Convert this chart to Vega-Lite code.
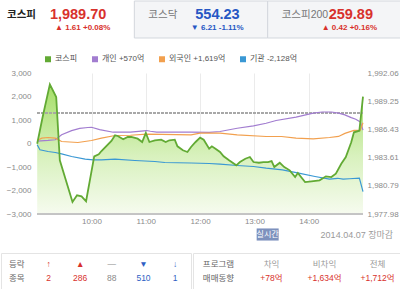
{
  "$schema": "https://vega.github.io/schema/vega-lite/v6.json",
  "padding": 0,
  "background": "white",
  "spacing": 15,
  "resolve": {"legend": {"color": "independent"}},
  "config": {
    "font": "'Liberation Sans', 'Noto Sans CJK KR', sans-serif",
    "view": {"stroke": null},
    "axis": {"labelFont": "'Liberation Sans', 'Noto Sans CJK KR', sans-serif", "labelOverlap": false},
    "legend": {"labelFont": "'Liberation Sans', 'Noto Sans CJK KR', sans-serif"}
  },
  "datasets": {
    "kospi": [
      {"t": "2014-04-07T09:00", "k": 1985.00, "s": "코스피"},
      {"t": "2014-04-07T09:06", "k": 1987.67, "s": "코스피"},
      {"t": "2014-04-07T09:14", "k": 1990.93, "s": "코스피"},
      {"t": "2014-04-07T09:21", "k": 1989.66, "s": "코스피"},
      {"t": "2014-04-07T09:25", "k": 1983.34, "s": "코스피"},
      {"t": "2014-04-07T09:39", "k": 1979.18, "s": "코스피"},
      {"t": "2014-04-07T09:44", "k": 1979.85, "s": "코스피"},
      {"t": "2014-04-07T09:49", "k": 1979.75, "s": "코스피"},
      {"t": "2014-04-07T09:54", "k": 1979.25, "s": "코스피"},
      {"t": "2014-04-07T10:03", "k": 1983.74, "s": "코스피"},
      {"t": "2014-04-07T10:08", "k": 1983.94, "s": "코스피"},
      {"t": "2014-04-07T10:11", "k": 1984.27, "s": "코스피"},
      {"t": "2014-04-07T10:22", "k": 1985.27, "s": "코스피"},
      {"t": "2014-04-07T10:26", "k": 1985.84, "s": "코스피"},
      {"t": "2014-04-07T10:29", "k": 1985.77, "s": "코스피"},
      {"t": "2014-04-07T10:35", "k": 1985.44, "s": "코스피"},
      {"t": "2014-04-07T10:40", "k": 1985.67, "s": "코스피"},
      {"t": "2014-04-07T10:44", "k": 1985.67, "s": "코스피"},
      {"t": "2014-04-07T10:51", "k": 1985.50, "s": "코스피"},
      {"t": "2014-04-07T10:56", "k": 1985.17, "s": "코스피"},
      {"t": "2014-04-07T11:00", "k": 1986.07, "s": "코스피"},
      {"t": "2014-04-07T11:04", "k": 1985.17, "s": "코스피"},
      {"t": "2014-04-07T11:10", "k": 1985.34, "s": "코스피"},
      {"t": "2014-04-07T11:17", "k": 1985.40, "s": "코스피"},
      {"t": "2014-04-07T11:22", "k": 1985.17, "s": "코스피"},
      {"t": "2014-04-07T11:26", "k": 1985.34, "s": "코스피"},
      {"t": "2014-04-07T11:32", "k": 1985.40, "s": "코스피"},
      {"t": "2014-04-07T11:35", "k": 1984.74, "s": "코스피"},
      {"t": "2014-04-07T11:41", "k": 1984.34, "s": "코스피"},
      {"t": "2014-04-07T11:46", "k": 1984.17, "s": "코스피"},
      {"t": "2014-04-07T11:50", "k": 1984.67, "s": "코스피"},
      {"t": "2014-04-07T11:55", "k": 1985.17, "s": "코스피"},
      {"t": "2014-04-07T12:00", "k": 1985.60, "s": "코스피"},
      {"t": "2014-04-07T12:04", "k": 1985.40, "s": "코스피"},
      {"t": "2014-04-07T12:10", "k": 1984.50, "s": "코스피"},
      {"t": "2014-04-07T12:13", "k": 1984.74, "s": "코스피"},
      {"t": "2014-04-07T12:17", "k": 1984.50, "s": "코스피"},
      {"t": "2014-04-07T12:22", "k": 1984.17, "s": "코스피"},
      {"t": "2014-04-07T12:26", "k": 1983.74, "s": "코스피"},
      {"t": "2014-04-07T12:32", "k": 1983.34, "s": "코스피"},
      {"t": "2014-04-07T12:40", "k": 1982.84, "s": "코스피"},
      {"t": "2014-04-07T12:44", "k": 1983.17, "s": "코스피"},
      {"t": "2014-04-07T12:50", "k": 1983.50, "s": "코스피"},
      {"t": "2014-04-07T12:55", "k": 1983.67, "s": "코스피"},
      {"t": "2014-04-07T12:59", "k": 1983.17, "s": "코스피"},
      {"t": "2014-04-07T13:05", "k": 1983.10, "s": "코스피"},
      {"t": "2014-04-07T13:10", "k": 1983.17, "s": "코스피"},
      {"t": "2014-04-07T13:15", "k": 1983.17, "s": "코스피"},
      {"t": "2014-04-07T13:19", "k": 1983.27, "s": "코스피"},
      {"t": "2014-04-07T13:22", "k": 1982.67, "s": "코스피"},
      {"t": "2014-04-07T13:28", "k": 1983.10, "s": "코스피"},
      {"t": "2014-04-07T13:33", "k": 1982.67, "s": "코스피"},
      {"t": "2014-04-07T13:39", "k": 1982.34, "s": "코스피"},
      {"t": "2014-04-07T13:45", "k": 1981.67, "s": "코스피"},
      {"t": "2014-04-07T13:48", "k": 1982.07, "s": "코스피"},
      {"t": "2014-04-07T13:56", "k": 1981.17, "s": "코스피"},
      {"t": "2014-04-07T14:03", "k": 1981.24, "s": "코스피"},
      {"t": "2014-04-07T14:12", "k": 1981.34, "s": "코스피"},
      {"t": "2014-04-07T14:19", "k": 1981.74, "s": "코스피"},
      {"t": "2014-04-07T14:25", "k": 1981.67, "s": "코스피"},
      {"t": "2014-04-07T14:30", "k": 1982.00, "s": "코스피"},
      {"t": "2014-04-07T14:36", "k": 1983.00, "s": "코스피"},
      {"t": "2014-04-07T14:41", "k": 1983.67, "s": "코스피"},
      {"t": "2014-04-07T14:47", "k": 1985.14, "s": "코스피"},
      {"t": "2014-04-07T14:50", "k": 1986.14, "s": "코스피"},
      {"t": "2014-04-07T14:56", "k": 1986.30, "s": "코스피"},
      {"t": "2014-04-07T15:00", "k": 1989.70, "s": "코스피"}
    ],
    "inv": [
      {"t": "2014-04-07T09:00", "s": "개인", "v": 100},
      {"t": "2014-04-07T09:12", "s": "개인", "v": 130},
      {"t": "2014-04-07T09:20", "s": "개인", "v": 160},
      {"t": "2014-04-07T09:27", "s": "개인", "v": 370},
      {"t": "2014-04-07T09:38", "s": "개인", "v": 550},
      {"t": "2014-04-07T09:47", "s": "개인", "v": 640},
      {"t": "2014-04-07T09:56", "s": "개인", "v": 680},
      {"t": "2014-04-07T10:00", "s": "개인", "v": 690},
      {"t": "2014-04-07T10:09", "s": "개인", "v": 590},
      {"t": "2014-04-07T10:24", "s": "개인", "v": 480},
      {"t": "2014-04-07T10:43", "s": "개인", "v": 480},
      {"t": "2014-04-07T10:58", "s": "개인", "v": 540},
      {"t": "2014-04-07T11:01", "s": "개인", "v": 553},
      {"t": "2014-04-07T11:05", "s": "개인", "v": 520},
      {"t": "2014-04-07T11:12", "s": "개인", "v": 481},
      {"t": "2014-04-07T11:50", "s": "개인", "v": 481},
      {"t": "2014-04-07T12:10", "s": "개인", "v": 470},
      {"t": "2014-04-07T12:22", "s": "개인", "v": 510},
      {"t": "2014-04-07T12:41", "s": "개인", "v": 650},
      {"t": "2014-04-07T12:59", "s": "개인", "v": 750},
      {"t": "2014-04-07T13:13", "s": "개인", "v": 860},
      {"t": "2014-04-07T13:24", "s": "개인", "v": 980},
      {"t": "2014-04-07T13:46", "s": "개인", "v": 1120},
      {"t": "2014-04-07T14:05", "s": "개인", "v": 1290},
      {"t": "2014-04-07T14:15", "s": "개인", "v": 1340},
      {"t": "2014-04-07T14:25", "s": "개인", "v": 1340},
      {"t": "2014-04-07T14:33", "s": "개인", "v": 1290},
      {"t": "2014-04-07T14:40", "s": "개인", "v": 1220},
      {"t": "2014-04-07T14:47", "s": "개인", "v": 1100},
      {"t": "2014-04-07T14:52", "s": "개인", "v": 1030},
      {"t": "2014-04-07T14:57", "s": "개인", "v": 920},
      {"t": "2014-04-07T15:00", "s": "개인", "v": 570},
      {"t": "2014-04-07T09:00", "s": "외국인", "v": 130},
      {"t": "2014-04-07T09:05", "s": "외국인", "v": 230},
      {"t": "2014-04-07T09:12", "s": "외국인", "v": 255},
      {"t": "2014-04-07T09:20", "s": "외국인", "v": 226},
      {"t": "2014-04-07T09:27", "s": "외국인", "v": 85},
      {"t": "2014-04-07T09:45", "s": "외국인", "v": 43},
      {"t": "2014-04-07T10:00", "s": "외국인", "v": 128},
      {"t": "2014-04-07T10:11", "s": "외국인", "v": 226},
      {"t": "2014-04-07T10:26", "s": "외국인", "v": 340},
      {"t": "2014-04-07T10:43", "s": "외국인", "v": 350},
      {"t": "2014-04-07T11:01", "s": "외국인", "v": 396},
      {"t": "2014-04-07T11:50", "s": "외국인", "v": 370},
      {"t": "2014-04-07T12:00", "s": "외국인", "v": 440},
      {"t": "2014-04-07T12:22", "s": "외국인", "v": 440},
      {"t": "2014-04-07T12:41", "s": "외국인", "v": 370},
      {"t": "2014-04-07T13:13", "s": "외국인", "v": 298},
      {"t": "2014-04-07T13:30", "s": "외국인", "v": 298},
      {"t": "2014-04-07T13:46", "s": "외국인", "v": 226},
      {"t": "2014-04-07T14:05", "s": "외국인", "v": 200},
      {"t": "2014-04-07T14:23", "s": "외국인", "v": 255},
      {"t": "2014-04-07T14:33", "s": "외국인", "v": 300},
      {"t": "2014-04-07T14:40", "s": "외국인", "v": 430},
      {"t": "2014-04-07T14:50", "s": "외국인", "v": 560},
      {"t": "2014-04-07T14:57", "s": "외국인", "v": 570},
      {"t": "2014-04-07T15:00", "s": "외국인", "v": 880},
      {"t": "2014-04-07T09:00", "s": "기관", "v": -55},
      {"t": "2014-04-07T09:03", "s": "기관", "v": -268},
      {"t": "2014-04-07T09:12", "s": "기관", "v": -340},
      {"t": "2014-04-07T09:20", "s": "기관", "v": -383},
      {"t": "2014-04-07T09:27", "s": "기관", "v": -440},
      {"t": "2014-04-07T09:38", "s": "기관", "v": -553},
      {"t": "2014-04-07T09:53", "s": "기관", "v": -667},
      {"t": "2014-04-07T10:02", "s": "기관", "v": -695},
      {"t": "2014-04-07T10:11", "s": "기관", "v": -695},
      {"t": "2014-04-07T10:26", "s": "기관", "v": -667},
      {"t": "2014-04-07T10:48", "s": "기관", "v": -723},
      {"t": "2014-04-07T11:10", "s": "기관", "v": -766},
      {"t": "2014-04-07T11:21", "s": "기관", "v": -808},
      {"t": "2014-04-07T11:50", "s": "기관", "v": -830},
      {"t": "2014-04-07T12:10", "s": "기관", "v": -850},
      {"t": "2014-04-07T12:22", "s": "기관", "v": -880},
      {"t": "2014-04-07T12:41", "s": "기관", "v": -936},
      {"t": "2014-04-07T12:59", "s": "기관", "v": -979},
      {"t": "2014-04-07T13:13", "s": "기관", "v": -1050},
      {"t": "2014-04-07T13:31", "s": "기관", "v": -1119},
      {"t": "2014-04-07T13:49", "s": "기관", "v": -1264},
      {"t": "2014-04-07T14:07", "s": "기관", "v": -1404},
      {"t": "2014-04-07T14:23", "s": "기관", "v": -1515},
      {"t": "2014-04-07T14:32", "s": "기관", "v": -1480},
      {"t": "2014-04-07T14:38", "s": "기관", "v": -1515},
      {"t": "2014-04-07T14:45", "s": "기관", "v": -1500},
      {"t": "2014-04-07T14:56", "s": "기관", "v": -1476},
      {"t": "2014-04-07T15:00", "s": "기관", "v": -2050}
    ]
  },
  "vconcat": [
    {
      "width": 400,
      "height": 37,
      "data": {"values": [
        {"tab": "코스피", "price": "1,989.70", "change": "▲ 1.61 +0.08%", "dir": "up", "state": "on"},
        {"tab": "코스닥", "price": "554.23", "change": "▼ 6.21 -1.11%", "dir": "down", "state": "off"},
        {"tab": "코스피200", "price": "259.89", "change": "▲ 0.42 +0.16%", "dir": "up", "state": "off"}
      ]},
      "layer": [
        {
          "mark": {"type": "bar", "strokeWidth": 1},
          "encoding": {
            "x": {"field": "tab", "type": "nominal", "sort": null, "scale": {"type": "band", "paddingInner": 0, "paddingOuter": 0}, "axis": null},
            "color": {"condition": {"test": "datum.state == 'on'", "value": "#ffffff"}, "value": "#f4f5f7"},
            "stroke": {"condition": {"test": "datum.state == 'on'", "value": "#ffffff"}, "value": "#d3d7dd"}
          }
        },
        {
          "transform": [{"filter": "datum.state == 'on'"}],
          "mark": {"type": "text", "align": "left", "dx": 6, "dy": -5, "fontSize": 10.5, "fontWeight": "bold", "color": "#222"},
          "encoding": {
            "x": {"field": "tab", "type": "nominal", "sort": null, "bandPosition": 0},
            "text": {"field": "tab"}
          }
        },
        {
          "transform": [{"filter": "datum.state == 'off'"}],
          "mark": {"type": "text", "align": "left", "dx": 14, "dy": -5, "fontSize": 10.5, "color": "#777"},
          "encoding": {
            "x": {"field": "tab", "type": "nominal", "sort": null, "bandPosition": 0},
            "text": {"field": "tab"}
          }
        },
        {
          "mark": {"type": "text", "align": "right", "dx": -28, "dy": -5, "fontSize": 14.5, "fontWeight": "bold"},
          "encoding": {
            "x": {"field": "tab", "type": "nominal", "sort": null, "bandPosition": 1},
            "text": {"field": "price"},
            "color": {"condition": {"test": "datum.dir == 'up'", "value": "#d8312c"}, "value": "#2657c4"}
          }
        },
        {
          "mark": {"type": "text", "align": "right", "dx": -24, "dy": 8, "fontSize": 8, "fontWeight": "bold"},
          "encoding": {
            "x": {"field": "tab", "type": "nominal", "sort": null, "bandPosition": 1},
            "text": {"field": "change"},
            "color": {"condition": {"test": "datum.dir == 'up'", "value": "#d8312c"}, "value": "#2657c4"}
          }
        }
      ]
    },
    {
      "spacing": 0,
      "resolve": {"legend": {"color": "independent"}},
      "vconcat": [
        {
          "width": 362,
          "height": 141,
          "layer": [
            {
              "data": {"name": "kospi"},
              "layer": [
                {
                  "mark": {"type": "area", "color": {"gradient": "linear", "x1": 0, "y1": 0, "x2": 0, "y2": 1, "stops": [{"offset": 0, "color": "#a4de66"}, {"offset": 0.55, "color": "#d8f1bd"}, {"offset": 1, "color": "#f6fbef"}]}},
                  "encoding": {
                    "x": {"field": "t", "type": "temporal", "scale": {"domain": [{"year": 2014, "month": 4, "date": 7, "hours": 8, "minutes": 20}, {"year": 2014, "month": 4, "date": 7, "hours": 15}]}, "axis": {"values": [{"year": 2014, "month": 4, "date": 7, "hours": 10}, {"year": 2014, "month": 4, "date": 7, "hours": 11}, {"year": 2014, "month": 4, "date": 7, "hours": 12}, {"year": 2014, "month": 4, "date": 7, "hours": 13}, {"year": 2014, "month": 4, "date": 7, "hours": 14}], "format": "%H:%M", "title": null, "grid": true, "gridColor": "#ebebeb", "domain": false, "ticks": false, "labelPadding": 3, "labelFontSize": 8, "labelColor": "#8a8a8a"}},
                    "y": {"field": "k", "type": "quantitative", "stack": null, "scale": {"domain": [1977.98, 1992.06], "nice": false, "zero": false}, "axis": {"orient": "right", "values": [1977.98, 1980.79, 1983.61, 1986.43, 1989.25, 1992.06], "format": ",.2f", "title": null, "grid": false, "ticks": false, "domain": false, "labelOverlap": false, "labelPadding": 4, "labelFontSize": 8, "labelColor": "#8a8a8a"}}
                  }
                },
                {
                  "mark": {"type": "rule", "color": "#a8a8a8", "strokeDash": [2, 2], "strokeWidth": 1},
                  "encoding": {
                    "x": {"datum": {"year": 2014, "month": 4, "date": 7, "hours": 9}, "type": "temporal", "axis": {"values": [{"year": 2014, "month": 4, "date": 7, "hours": 10}, {"year": 2014, "month": 4, "date": 7, "hours": 11}, {"year": 2014, "month": 4, "date": 7, "hours": 12}, {"year": 2014, "month": 4, "date": 7, "hours": 13}, {"year": 2014, "month": 4, "date": 7, "hours": 14}], "format": "%H:%M", "title": null, "grid": true, "gridColor": "#ebebeb", "domain": false, "ticks": false, "labelPadding": 3, "labelFontSize": 8, "labelColor": "#8a8a8a"}},
                    "x2": {"datum": {"year": 2014, "month": 4, "date": 7, "hours": 15}},
                    "y": {"datum": 1988.09, "type": "quantitative", "axis": {"orient": "right", "values": [1977.98, 1980.79, 1983.61, 1986.43, 1989.25, 1992.06], "format": ",.2f", "title": null, "grid": false, "ticks": false, "domain": false, "labelOverlap": false, "labelPadding": 4, "labelFontSize": 8, "labelColor": "#8a8a8a"}}
                  }
                }
              ]
            },
            {
              "data": {"name": "inv"},
              "layer": [
                {
                  "mark": {"type": "line", "strokeWidth": 1.2},
                  "encoding": {
                    "x": {"field": "t", "type": "temporal", "axis": {"values": [{"year": 2014, "month": 4, "date": 7, "hours": 10}, {"year": 2014, "month": 4, "date": 7, "hours": 11}, {"year": 2014, "month": 4, "date": 7, "hours": 12}, {"year": 2014, "month": 4, "date": 7, "hours": 13}, {"year": 2014, "month": 4, "date": 7, "hours": 14}], "format": "%H:%M", "title": null, "grid": true, "gridColor": "#ebebeb", "domain": false, "ticks": false, "labelPadding": 3, "labelFontSize": 8, "labelColor": "#8a8a8a"}},
                    "y": {"field": "v", "type": "quantitative", "scale": {"domain": [-3000, 3000], "nice": false}, "axis": {"orient": "left", "offset": -36, "values": [-3000, -2000, -1000, 0, 1000, 2000, 3000], "format": ",.0f", "title": null, "ticks": false, "domain": false, "labelOverlap": false, "labelPadding": 6, "labelFontSize": 8, "labelColor": "#8a8a8a", "grid": false}},
                    "color": {"field": "s", "type": "nominal", "scale": {"domain": ["코스피", "개인", "외국인", "기관"], "range": ["#62aa34", "#a27dd0", "#f2a04e", "#3a98d4"]}, "legend": {"orient": "none", "legendX": 42, "legendY": -19, "direction": "horizontal", "title": null, "symbolType": "square", "symbolSize": 9, "symbolStrokeWidth": 3, "labelFontSize": 8, "labelColor": "#555", "columnPadding": 9, "labelOffset": 3, "padding": 1, "labelExpr": "datum.label == '개인' ? '개인 +570억' : datum.label == '외국인' ? '외국인 +1,619억' : datum.label == '기관' ? '기관 -2,128억' : datum.label"}}
                  }
                },
                {
                  "mark": {"type": "rule", "color": "#c4c4c4", "strokeWidth": 1},
                  "encoding": {
                    "x": {"datum": {"year": 2014, "month": 4, "date": 7, "hours": 9}, "type": "temporal", "axis": {"values": [{"year": 2014, "month": 4, "date": 7, "hours": 10}, {"year": 2014, "month": 4, "date": 7, "hours": 11}, {"year": 2014, "month": 4, "date": 7, "hours": 12}, {"year": 2014, "month": 4, "date": 7, "hours": 13}, {"year": 2014, "month": 4, "date": 7, "hours": 14}], "format": "%H:%M", "title": null, "grid": true, "gridColor": "#ebebeb", "domain": false, "ticks": false, "labelPadding": 3, "labelFontSize": 8, "labelColor": "#8a8a8a"}},
                    "x2": {"datum": {"year": 2014, "month": 4, "date": 7, "hours": 15}},
                    "y": {"datum": -3000, "type": "quantitative", "axis": {"orient": "left", "offset": -36, "values": [-3000, -2000, -1000, 0, 1000, 2000, 3000], "format": ",.0f", "title": null, "ticks": false, "domain": false, "labelOverlap": false, "labelPadding": 6, "labelFontSize": 8, "labelColor": "#8a8a8a", "grid": false}}
                  }
                }
              ]
            },
            {
              "data": {"name": "kospi"},
              "mark": {"type": "line", "strokeWidth": 1.8},
              "encoding": {
                "x": {"field": "t", "type": "temporal", "axis": {"values": [{"year": 2014, "month": 4, "date": 7, "hours": 10}, {"year": 2014, "month": 4, "date": 7, "hours": 11}, {"year": 2014, "month": 4, "date": 7, "hours": 12}, {"year": 2014, "month": 4, "date": 7, "hours": 13}, {"year": 2014, "month": 4, "date": 7, "hours": 14}], "format": "%H:%M", "title": null, "grid": true, "gridColor": "#ebebeb", "domain": false, "ticks": false, "labelPadding": 3, "labelFontSize": 8, "labelColor": "#8a8a8a"}},
                "y": {"field": "k", "type": "quantitative", "scale": {"domain": [1977.98, 1992.06], "nice": false, "zero": false}, "axis": null},
                "color": {"field": "s", "type": "nominal"}
              }
            }
          ],
          "resolve": {"scale": {"y": "independent"}}
        },
        {
          "width": 400,
          "height": 27,
          "data": {"values": [{"k": "badge", "t": "실시간"}, {"k": "date", "t": "2014.04.07 장마감"}]},
          "encoding": {"x": {"field": "k", "type": "nominal", "scale": {"type": "point", "domain": ["badge", "date"], "padding": 1.75, "align": 1}, "axis": null}},
          "layer": [
            {
              "transform": [{"filter": "datum.k == 'badge'"}],
              "mark": {"type": "point", "shape": "M-1,-0.55H1V0.55H-1Z", "filled": true, "size": 484, "color": "#7d91bd", "opacity": 1, "yOffset": -4}
            },
            {
              "transform": [{"filter": "datum.k == 'badge'"}],
              "mark": {"type": "text", "color": "#ffffff", "fontSize": 8, "dy": -4},
              "encoding": {"text": {"field": "t"}}
            },
            {
              "transform": [{"filter": "datum.k == 'date'"}],
              "mark": {"type": "text", "align": "right", "color": "#9a9a9a", "fontSize": 9, "dy": -4, "dx": -8},
              "encoding": {"text": {"field": "t"}}
            }
          ]
        },
        {
          "spacing": 0,
          "hconcat": [
            {
              "width": 190,
              "height": 36,
              "view": {"stroke": "#e4e4e4"},
              "data": {"values": [
                {"c": "c0", "r": "r1", "t": "등락", "tone": "label"},
                {"c": "c1", "r": "r1", "t": "↑", "tone": "up"},
                {"c": "c2", "r": "r1", "t": "▲", "tone": "up"},
                {"c": "c3", "r": "r1", "t": "—", "tone": "flat"},
                {"c": "c4", "r": "r1", "t": "▼", "tone": "down"},
                {"c": "c5", "r": "r1", "t": "↓", "tone": "down"},
                {"c": "c0", "r": "r2", "t": "종목", "tone": "label"},
                {"c": "c1", "r": "r2", "t": "2", "tone": "up"},
                {"c": "c2", "r": "r2", "t": "286", "tone": "up"},
                {"c": "c3", "r": "r2", "t": "88", "tone": "flat"},
                {"c": "c4", "r": "r2", "t": "510", "tone": "down"},
                {"c": "c5", "r": "r2", "t": "1", "tone": "down"}
              ]},
              "mark": {"type": "text", "fontSize": 8.5},
              "encoding": {
                "x": {"field": "c", "type": "nominal", "scale": {"type": "point", "padding": 0.5}, "axis": null},
                "y": {"field": "r", "type": "nominal", "scale": {"type": "point", "padding": 0.85}, "axis": null},
                "text": {"field": "t"},
                "color": {"condition": [{"test": "datum.tone == 'up'", "value": "#d8312c"}, {"test": "datum.tone == 'down'", "value": "#2f5fc4"}, {"test": "datum.tone == 'flat'", "value": "#8a8a8a"}], "value": "#666666"}
              }
            },
            {
              "width": 210,
              "height": 36,
              "view": {"stroke": "#e4e4e4"},
              "data": {"values": [
                {"c": "c0", "r": "r1", "t": "프로그램", "tone": "label"},
                {"c": "c1", "r": "r1", "t": "차익", "tone": "head"},
                {"c": "c2", "r": "r1", "t": "비차익", "tone": "head"},
                {"c": "c3", "r": "r1", "t": "전체", "tone": "head"},
                {"c": "c0", "r": "r2", "t": "매매동향", "tone": "label"},
                {"c": "c1", "r": "r2", "t": "+78억", "tone": "up"},
                {"c": "c2", "r": "r2", "t": "+1,634억", "tone": "up"},
                {"c": "c3", "r": "r2", "t": "+1,712억", "tone": "up"}
              ]},
              "mark": {"type": "text", "fontSize": 8.5},
              "encoding": {
                "x": {"field": "c", "type": "nominal", "scale": {"type": "point", "padding": 0.48}, "axis": null},
                "y": {"field": "r", "type": "nominal", "scale": {"type": "point", "padding": 0.85}, "axis": null},
                "text": {"field": "t"},
                "color": {"condition": [{"test": "datum.tone == 'up'", "value": "#d8312c"}, {"test": "datum.tone == 'head'", "value": "#999999"}], "value": "#666666"}
              }
            }
          ]
        }
      ]
    }
  ]
}
